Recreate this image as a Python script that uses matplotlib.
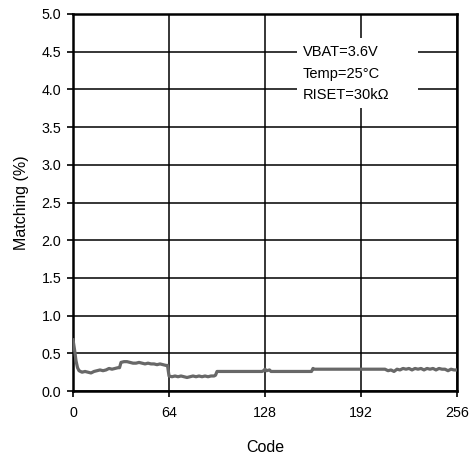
import matplotlib
matplotlib.use('Agg')
import matplotlib.pyplot as plt
from matplotlib.patches import Rectangle

# Data
code = [0, 1, 2, 3, 4, 5, 6, 8, 10, 12, 14, 16, 18, 20, 22, 24, 26, 28, 30, 31,
        32, 34, 36, 38, 40, 42, 44, 46, 48, 50, 52, 54, 56, 58, 60, 62, 63,
        64, 66, 68, 70, 72, 74, 76, 78, 80, 82, 84, 86, 88, 90, 92, 94, 95,
        96, 100, 104, 108, 112, 116, 120, 124, 126, 127, 128, 129, 131, 132,
        136, 140, 144, 148, 152, 156, 159,
        160, 161, 166, 172, 178, 184, 190, 196, 202, 208,
        210, 212, 214, 216, 218, 220, 222, 224, 226, 228, 230, 232, 234, 236,
        238, 240, 242, 244, 246, 248, 250, 252, 254, 256]
matching = [0.68, 0.55, 0.40, 0.31, 0.27, 0.26, 0.25, 0.26, 0.25, 0.24, 0.26, 0.27, 0.28, 0.27, 0.28, 0.30, 0.29, 0.30, 0.31, 0.31,
            0.38, 0.39, 0.39, 0.38, 0.37, 0.37, 0.38, 0.37, 0.36, 0.37, 0.36, 0.36, 0.35, 0.36, 0.35, 0.34, 0.34,
            0.20, 0.19, 0.20, 0.19, 0.20, 0.19, 0.18, 0.19, 0.20, 0.19, 0.20, 0.19, 0.20, 0.19, 0.20, 0.20, 0.21,
            0.26, 0.26, 0.26, 0.26, 0.26, 0.26, 0.26, 0.26, 0.26, 0.27, 0.29, 0.27, 0.28, 0.26,
            0.26, 0.26, 0.26, 0.26, 0.26, 0.26, 0.26,
            0.30, 0.29, 0.29, 0.29, 0.29, 0.29, 0.29, 0.29, 0.29, 0.29,
            0.27, 0.28, 0.26, 0.29, 0.28, 0.30, 0.29, 0.30, 0.28, 0.30, 0.29, 0.30, 0.28, 0.30,
            0.29, 0.30, 0.28, 0.30, 0.29, 0.29, 0.27, 0.29, 0.28, 0.28]

x_ticks = [0, 64, 128, 192, 256]
y_ticks = [0.0, 0.5, 1.0, 1.5, 2.0, 2.5, 3.0, 3.5, 4.0, 4.5, 5.0]
conditions = ['VBAT=3.6V', 'Temp=25°C', 'RISET=30kΩ']

plt.rcParams['font.family'] = ['Liberation Sans', 'DejaVu Sans']

fig = plt.figure(figsize=(4.69, 4.59), dpi=100)
ax = fig.add_axes([0.1557, 0.148, 0.8187, 0.8215])

ax.plot(code, matching, color='#686868', lw=2.3, zorder=3, solid_joinstyle='round')

ax.set_xlim(0, 256)
ax.set_ylim(0, 5)
ax.set_xticks(x_ticks)
ax.set_yticks(y_ticks)
ax.set_yticklabels(['{:.1f}'.format(v) for v in y_ticks])
ax.grid(True, color='black', lw=1.1)
ax.set_axisbelow(True)
ax.tick_params(direction='out', length=4, width=1.2, labelsize=10.3, color='black')
ax.tick_params(axis='x', pad=7)
ax.tick_params(axis='y', pad=4.5)
for s in ax.spines.values():
    s.set_linewidth(1.8)

ax.set_xlabel('Code', fontsize=11.5, labelpad=14)
ax.set_ylabel('Matching (%)', fontsize=11.5, labelpad=9)

# white box behind the conditions text
ax.add_patch(Rectangle((149, 3.75), 81, 0.93, facecolor='white', edgecolor='none', zorder=2))
for i, t in enumerate(conditions):
    ax.text(153, 4.49 - i * 0.285, t, fontsize=10.5, va='center', ha='left', zorder=4)

fig.savefig('out.png', dpi=100)
